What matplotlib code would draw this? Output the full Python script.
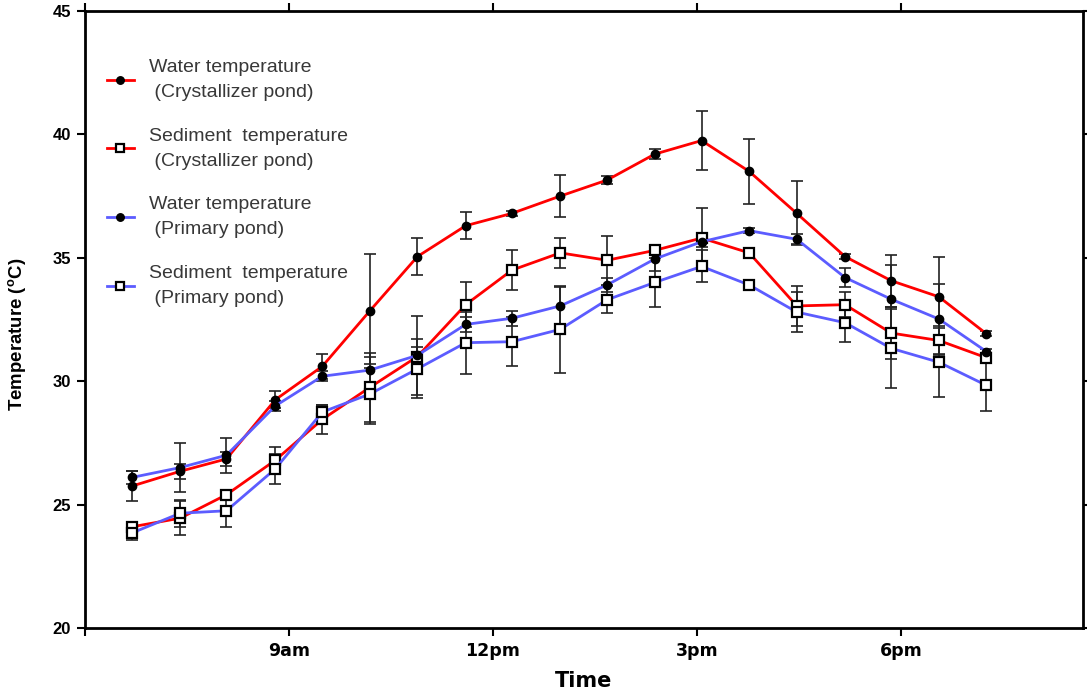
import matplotlib
matplotlib.use("Agg")
import matplotlib.pyplot as plt

plt.rcParams["font.family"] = ["Liberation Sans", "DejaVu Sans"]
plt.rcParams["mathtext.fontset"] = "custom"
plt.rcParams["mathtext.bf"] = "Liberation Sans:bold"
plt.rcParams["mathtext.rm"] = "Liberation Sans"

# sampling times (decimal hours)
times = [6.69, 7.40, 8.08, 8.80, 9.49, 10.19, 10.89, 11.60, 12.28, 12.99,
         13.68, 14.38, 15.07, 15.77, 16.47, 17.18, 17.86, 18.56, 19.26]

water_cryst = [25.75, 26.35, 26.85, 29.25, 30.6, 32.85, 35.05, 36.3, 36.8, 37.5,
               38.15, 39.2, 39.75, 38.5, 36.8, 35.05, 34.07, 33.42, 31.92]
water_cryst_err = [0.6, 0.3, 0.3, 0.35, 0.5, 2.3, 0.75, 0.55, 0.1, 0.85,
                   0.15, 0.2, 1.18, 1.3, 1.3, 0.1, 1.05, 1.6, 0.1]

sed_cryst = [24.1, 24.45, 25.4, 26.8, 28.45, 29.75, 31.0, 33.1, 34.5, 35.2,
             34.9, 35.3, 35.8, 35.2, 33.05, 33.1, 31.95, 31.65, 30.95]
sed_cryst_err = [0.2, 0.7, 0.2, 0.55, 0.6, 1.4, 0.4, 0.9, 0.8, 0.6,
                 1.0, 0.2, 1.2, 0.1, 0.8, 0.5, 1.05, 0.6, 0.15]

water_prim = [26.1, 26.5, 27.0, 29.0, 30.2, 30.45, 31.05, 32.3, 32.55, 33.05,
              33.9, 34.95, 35.65, 36.1, 35.75, 34.2, 33.32, 32.52, 31.2]
water_prim_err = [0.25, 1.0, 0.7, 0.2, 0.2, 0.55, 1.6, 0.3, 0.3, 0.75,
                  0.3, 0.5, 0.2, 0.1, 0.2, 0.4, 1.4, 1.4, 0.1]

sed_prim = [23.85, 24.65, 24.75, 26.45, 28.75, 29.48, 30.5, 31.56, 31.6, 32.1,
            33.3, 34.0, 34.65, 33.9, 32.8, 32.37, 31.33, 30.77, 29.83]
sed_prim_err = [0.3, 0.55, 0.65, 0.6, 0.3, 1.2, 1.2, 1.25, 1.0, 1.75,
                0.55, 1.0, 0.65, 0.2, 0.8, 0.8, 1.6, 1.4, 1.05]

series = [
    ("Water temperature\n (Crystallizer pond)", water_cryst, water_cryst_err, "#ff0000", "o"),
    ("Sediment  temperature\n (Crystallizer pond)", sed_cryst, sed_cryst_err, "#ff0000", "s"),
    ("Water temperature\n (Primary pond)", water_prim, water_prim_err, "#5c5cff", "o"),
    ("Sediment  temperature\n (Primary pond)", sed_prim, sed_prim_err, "#5c5cff", "s"),
]

tick_hours = [6, 9, 12, 15, 18]
tick_labels = ["", "9am", "12pm", "3pm", "6pm"]

fig = plt.figure(figsize=(10.87, 6.96), dpi=100)
ax = fig.add_axes([0.0782, 0.0977, 0.9181, 0.8865])

handles = []
for label, vals, errs, color, marker in series:
    ax.errorbar(times, vals, yerr=errs, fmt="none", ecolor="#222222",
                elinewidth=1.2, capsize=4, capthick=1.2, zorder=2)
    if marker == "o":
        mk = dict(marker="o", markersize=6, markerfacecolor="black",
                  markeredgecolor="black")
    else:
        mk = dict(marker="s", markersize=7, markerfacecolor="white",
                  markeredgecolor="black", markeredgewidth=1.6)
    h, = ax.plot(times, vals, color=color, linewidth=2, label=label,
                 zorder=3, **mk)
    handles.append(h)

ax.set_xlim(6, 20.68)
ax.set_ylim(20, 45)
ax.set_yticks([20, 25, 30, 35, 40, 45])
ax.set_xticks(tick_hours)
ax.set_xticklabels(tick_labels, fontweight="bold", fontsize=12.5,
                   family="DejaVu Sans")
for t in ax.get_yticklabels():
    t.set_fontweight("bold")
    t.set_fontsize(12)

ax.tick_params(axis="both", direction="out", length=6, width=1.5,
               top=True, right=True, pad=4)
for sp in ax.spines.values():
    sp.set_linewidth(2)

ax.set_xlabel("Time", fontsize=15, fontweight="bold", labelpad=8,
              family="DejaVu Sans")
ax.set_ylabel(r"Temperature ($^{\mathbf{o}}$C)", fontsize=13.4,
              fontweight="bold")
ax.yaxis.set_label_coords(-0.056, 0.476)

leg = ax.legend(handles=handles, loc="upper left",
                bbox_to_anchor=(0.022, 0.922), frameon=False, fontsize=14,
                borderaxespad=0, borderpad=0, markerscale=0.9,
                handlelength=1.37, handletextpad=0.77, labelspacing=1.38)
for t in leg.get_texts():
    t.set_color("#383838")
    t.set_linespacing(1.6)

fig.savefig("out.png", dpi=100)
